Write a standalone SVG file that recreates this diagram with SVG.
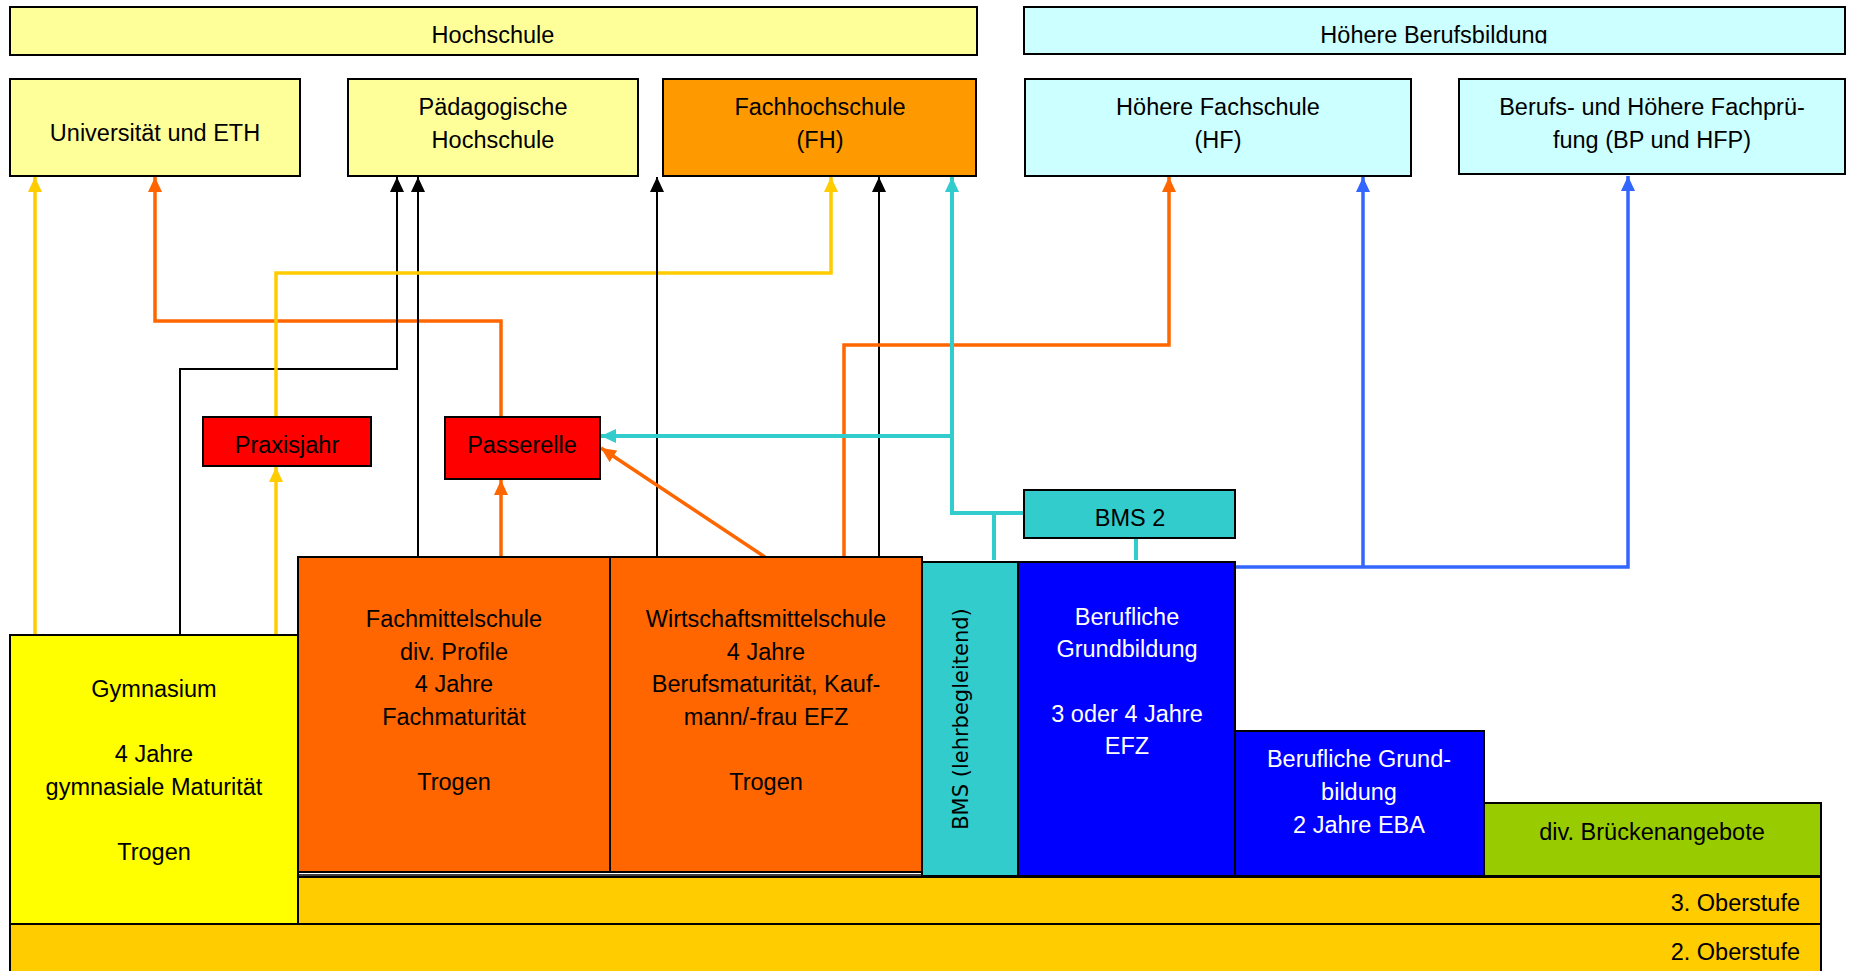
<svg xmlns="http://www.w3.org/2000/svg" width="1849" height="971" viewBox="0 0 1849 971">
<style>
.box{stroke:#000;stroke-width:2}
.t{font-family:"Liberation Sans",Arial,sans-serif;font-size:23.5px;fill:#000;text-anchor:middle}
.w{fill:#fff}
.c{fill:none;stroke-linejoin:miter;stroke-linecap:butt}
.yel{stroke:#FFCC00;stroke-width:3.5}
.ora{stroke:#FF6600;stroke-width:3.5}
.blk{stroke:#000;stroke-width:2}
.cya{stroke:#33CCCC;stroke-width:4}
.blu{stroke:#3366FF;stroke-width:3.5}
</style>
<defs>
<marker id="aY" viewBox="0 0 15 14" refX="15" refY="7" markerWidth="15" markerHeight="14" markerUnits="userSpaceOnUse" orient="auto"><path d="M0,0 L15,7 L0,14 z" fill="#FFCC00"/></marker>
<marker id="aO" viewBox="0 0 15 14" refX="15" refY="7" markerWidth="15" markerHeight="14" markerUnits="userSpaceOnUse" orient="auto"><path d="M0,0 L15,7 L0,14 z" fill="#FF6600"/></marker>
<marker id="aK" viewBox="0 0 15 14" refX="15" refY="7" markerWidth="15" markerHeight="14" markerUnits="userSpaceOnUse" orient="auto"><path d="M0,0 L15,7 L0,14 z" fill="#000"/></marker>
<marker id="aC" viewBox="0 0 15 14" refX="15" refY="7" markerWidth="15" markerHeight="14" markerUnits="userSpaceOnUse" orient="auto"><path d="M0,0 L15,7 L0,14 z" fill="#33CCCC"/></marker>
<marker id="aB" viewBox="0 0 15 14" refX="15" refY="7" markerWidth="15" markerHeight="14" markerUnits="userSpaceOnUse" orient="auto"><path d="M0,0 L15,7 L0,14 z" fill="#3366FF"/></marker>
<clipPath id="clipHB"><rect x="1024" y="7" width="822" height="36.5"/></clipPath>
</defs>
<rect width="1849" height="971" fill="#fff"/>

<g id="connectors">
<path class="c yel" d="M35,635 V177" marker-end="url(#aY)"/>
<path class="c ora" d="M501,417 V321 H155 V177" marker-end="url(#aO)"/>
<path class="c blk" d="M180,635 V369 H397 V177" marker-end="url(#aK)"/>
<path class="c blk" d="M418,557 V177" marker-end="url(#aK)"/>
<path class="c yel" d="M276,417 V273 H831 V177" marker-end="url(#aY)"/>
<path class="c yel" d="M276,635 V467" marker-end="url(#aY)"/>
<path class="c ora" d="M501,557 V480" marker-end="url(#aO)"/>
<path class="c blk" d="M657,557 V177" marker-end="url(#aK)"/>
<path class="c blk" d="M879,562 V177" marker-end="url(#aK)"/>
<path class="c ora" d="M844,557 V345 H1169 V177" marker-end="url(#aO)"/>
<path class="c ora" d="M765,557 L601,448" marker-end="url(#aO)"/>
<path class="c cya" d="M1024,513 H952 V177" marker-end="url(#aC)"/>
<path class="c cya" d="M994,560 V511"/>
<path class="c cya" d="M952,436 H601" marker-end="url(#aC)"/>
<path class="c cya" d="M1136,538 V560"/>
<path class="c blu" d="M1235,567 H1628 V176" marker-end="url(#aB)"/>
<path class="c blu" d="M1363,567 V177" marker-end="url(#aB)"/>
</g>

<g id="hochschule">
<rect class="box" x="10" y="7" width="967" height="48" fill="#FFFF99"/>
<text class="t" x="493" y="43">Hochschule</text>
</g>
<g id="hoehere-berufsbildung">
<rect class="box" x="1024" y="7" width="821" height="47" fill="#CCFFFF"/>
<text class="t" x="1434" y="43" clip-path="url(#clipHB)">Höhere Berufsbildung</text>
</g>
<g id="universitaet">
<rect class="box" x="10" y="79" width="290" height="97" fill="#FFFF99"/>
<text class="t" x="155" y="141">Universität und ETH</text>
</g>
<g id="paedagogische-hochschule">
<rect class="box" x="348" y="79" width="290" height="97" fill="#FFFF99"/>
<text class="t" x="493" y="115">Pädagogische</text>
<text class="t" x="493" y="148">Hochschule</text>
</g>
<g id="fachhochschule">
<rect class="box" x="663" y="79" width="313" height="97" fill="#FF9900"/>
<text class="t" x="820" y="115">Fachhochschule</text>
<text class="t" x="820" y="148">(FH)</text>
</g>
<g id="hoehere-fachschule">
<rect class="box" x="1025" y="79" width="386" height="97" fill="#CCFFFF"/>
<text class="t" x="1218" y="115">Höhere Fachschule</text>
<text class="t" x="1218" y="148">(HF)</text>
</g>
<g id="berufspruefung">
<rect class="box" x="1459" y="79" width="386" height="95" fill="#CCFFFF"/>
<text class="t" x="1652" y="115">Berufs- und Höhere Fachprü-</text>
<text class="t" x="1652" y="148">fung (BP und HFP)</text>
</g>
<g id="praxisjahr">
<rect class="box" x="203" y="417" width="168" height="49" fill="#FF0000"/>
<text class="t" x="287" y="453">Praxisjahr</text>
</g>
<g id="passerelle">
<rect class="box" x="445" y="417" width="155" height="62" fill="#FF0000"/>
<text class="t" x="522" y="453">Passerelle</text>
</g>
<g id="bms2">
<rect class="box" x="1024" y="490" width="211" height="48" fill="#33CCCC"/>
<text class="t" x="1130" y="526">BMS 2</text>
</g>
<g id="oberstufe2">
<rect class="box" x="10" y="924" width="1811" height="52" fill="#FFCC00"/>
<text class="t" x="1800" y="960" style="text-anchor:end">2. Oberstufe</text>
</g>
<g id="oberstufe3">
<rect class="box" x="298" y="877" width="1523" height="47" fill="#FFCC00"/>
<text class="t" x="1800" y="911" style="text-anchor:end">3. Oberstufe</text>
</g>
<g id="gymnasium">
<rect class="box" x="10" y="635" width="288" height="289" fill="#FFFF00"/>
<text class="t" x="154" y="697">Gymnasium</text>
<text class="t" x="154" y="762">4 Jahre</text>
<text class="t" x="154" y="795">gymnasiale Maturität</text>
<text class="t" x="154" y="860">Trogen</text>
</g>
<g id="fachmittelschule">
<rect class="box" x="298" y="557" width="312" height="315" fill="#FF6600"/>
<text class="t" x="454" y="627">Fachmittelschule</text>
<text class="t" x="454" y="660">div. Profile</text>
<text class="t" x="454" y="692">4 Jahre</text>
<text class="t" x="454" y="725">Fachmaturität</text>
<text class="t" x="454" y="790">Trogen</text>
</g>
<g id="wirtschaftsmittelschule">
<rect class="box" x="610" y="557" width="312" height="315" fill="#FF6600"/>
<text class="t" x="766" y="627">Wirtschaftsmittelschule</text>
<text class="t" x="766" y="660">4 Jahre</text>
<text class="t" x="766" y="692">Berufsmaturität, Kauf-</text>
<text class="t" x="766" y="725">mann/-frau EFZ</text>
<text class="t" x="766" y="790">Trogen</text>
</g>
<line x1="298" y1="875" x2="922" y2="875" stroke="#000" stroke-width="1.5"/>
<g id="bms-lehrbegleitend">
<rect class="box" x="922" y="562" width="96" height="314" fill="#33CCCC"/>
<text x="960" y="719" transform="rotate(-90 960 719)" dy="7.5" style="font-family:'DejaVu Sans',Verdana,sans-serif;font-size:21px;text-anchor:middle;fill:#000">BMS (lehrbegleitend)</text>
</g>
<g id="berufliche-grundbildung-efz">
<rect class="box" x="1018" y="562" width="217" height="314" fill="#0000FF"/>
<text class="t w" x="1127" y="625">Berufliche</text>
<text class="t w" x="1127" y="657">Grundbildung</text>
<text class="t w" x="1127" y="722">3 oder 4 Jahre</text>
<text class="t w" x="1127" y="754">EFZ</text>
</g>
<g id="berufliche-grundbildung-eba">
<rect class="box" x="1235" y="731" width="249" height="145" fill="#0000FF"/>
<text class="t w" x="1359" y="767">Berufliche Grund-</text>
<text class="t w" x="1359" y="800">bildung</text>
<text class="t w" x="1359" y="833">2 Jahre EBA</text>
</g>
<g id="brueckenangebote">
<rect class="box" x="1484" y="803" width="337" height="73" fill="#99CC00"/>
<text class="t" x="1652" y="840">div. Brückenangebote</text>
</g>
</svg>
